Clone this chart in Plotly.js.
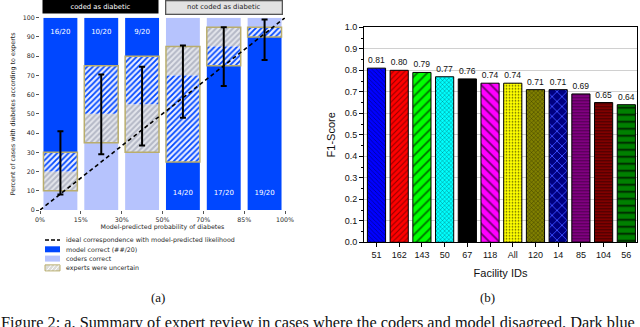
<!DOCTYPE html>
<html>
<head>
<meta charset="utf-8">
<script src="https://cdn.plot.ly/plotly-3.0.1.min.js"></script>
<style>
html, body { margin: 0; padding: 0; background: #fff; }
#plot { width: 640px; height: 327px; }
</style>
</head>
<body>
<div id="plot"></div>
<script>
// ---- (a) expert review where coders and model disagreed ----
const binEdges = ["0%", "15%", "30%", "50%", "70%", "85%", "100%"];
const binCounts = ["16/20", "10/20", "9/20", "14/20", "17/20", "19/20"];
// [bottom, top] of each segment, percent of cases
const coderCorrect   = [[0, 10], [0, 35], [0, 30], [85, 100], [95, 100], [95, 100]];
const uncertainCoder = [[10, 20], [35, 50], [30, 55], [70, 85], [85, 95], [95, 95]];
const uncertainModel = [[20, 30], [50, 75], [55, 80], [25, 70], [75, 85], [90, 95]];
const modelCorrect   = [[30, 100], [75, 100], [80, 100], [0, 25], [0, 75], [0, 90]];
const ciLow  = [8, 29, 33.5, 48, 64.5, 78];
const ciHigh = [41, 70.5, 74.5, 85.5, 95, 99];
const ideal = [0, 100];

// ---- (b) F1 score per facility ----
const facilityIds = ["51", "162", "143", "50", "67", "118", "All", "120", "14", "85", "104", "56"];
const f1Scores = [0.81, 0.80, 0.79, 0.77, 0.76, 0.74, 0.74, 0.71, 0.71, 0.69, 0.65, 0.64];
const barColors = ["#0000ff", "#ff0000", "#00ff00", "#00ffff", "#000000", "#ff00ff",
                   "#ffff00", "#808000", "#000080", "#800080", "#800000", "#008000"];
const hatchColors = ["#000090", "#900000", "#007000", "#007070", "#000000", "#700070",
                     "#606000", "#303000", "#3a4cff", "#400040", "#300000", "#002000"];
const hatchShapes = ["\\", "/", "/", "x", "", "\\", ".", "x", "x", "-", "-", "-"];
const hatchSizes = [3, 4, 7, 3, 6, 7, 3, 3, 7, 3, 3, 7];

const DARK = "#0047ff", LIGHT = "#b6c3fd", OLIVE = "#b9ad6c";
const W = 640, H = 327;
const px = v => v / W;
const py = v => 1 - v / H;
const centers = binCounts.map((_, i) => i + 0.5);
const span = seg => seg.map(s => s[1] - s[0]);
const base = seg => seg.map(s => s[0]);

function segBars(seg, marker) {
  return {
    type: "bar", x: centers, y: span(seg), base: base(seg), width: 0.83,
    marker: marker, xaxis: "x", yaxis: "y", hoverinfo: "skip", showlegend: false
  };
}

const traces = [
  segBars(coderCorrect, { color: LIGHT }),
  segBars(modelCorrect, { color: DARK }),
  segBars(uncertainCoder, { color: "#e2e4ea", pattern: { shape: "/", fgcolor: "#b4b8c6", bgcolor: "#e4e6ec", size: 4, solidity: 0.5 } }),
  segBars(uncertainModel, { color: DARK, pattern: { shape: "/", fgcolor: DARK, bgcolor: "#e8ecff", size: 4, solidity: 0.45 } }),
  segBars(uncertainCoder.map((s, i) => [Math.min(s[0], uncertainModel[i][0]), Math.max(s[1], uncertainModel[i][1])]),
    { color: "rgba(0,0,0,0)", line: { color: OLIVE, width: 1.5 } }),
  {
    type: "scatter", mode: "lines", x: [0, binEdges.length - 1], y: ideal,
    line: { color: "#000", width: 1.6, dash: "4px,3px" }, xaxis: "x", yaxis: "y", showlegend: false
  },
  {
    type: "scatter", mode: "markers", x: centers,
    y: ciLow.map((lo, i) => (lo + ciHigh[i]) / 2),
    marker: { size: 1, color: "rgba(0,0,0,0)" },
    error_y: { type: "data", symmetric: false, array: ciHigh.map((hi, i) => (hi - ciLow[i]) / 2),
               arrayminus: ciHigh.map((hi, i) => (hi - ciLow[i]) / 2), color: "#000", thickness: 2, width: 3 },
    xaxis: "x", yaxis: "y", showlegend: false
  },
  {
    type: "scatter", mode: "text", x: centers,
    y: binCounts.map((_, i) => i < 3 ? 92.5 : 8.5), text: binCounts,
    textfont: { family: "DejaVu Sans", size: 7, color: "#fff" }, xaxis: "x", yaxis: "y", showlegend: false
  }
];

// one trace per facility so each bar keeps its own fill and hatch
facilityIds.forEach((id, i) => {
  traces.push({
    type: "bar", x: [id], y: [f1Scores[i]], width: 0.8, xaxis: "x2", yaxis: "y2",
    marker: {
      color: barColors[i], line: { color: "#000", width: 1 },
      pattern: { shape: hatchShapes[i], fgcolor: hatchColors[i], fgopacity: 1,
                 size: hatchSizes[i], solidity: 0.25, fillmode: "overlay" }
    },
    text: [f1Scores[i].toFixed(2)], textposition: "outside", cliponaxis: false,
    textfont: { family: "Liberation Sans", size: 8.5, color: "#111" }, showlegend: false
  });
});

const small = { family: "DejaVu Sans", size: 6.3, color: "#262626" };
const arial = { family: "Liberation Sans", size: 9, color: "#111" };

// legend rows for (a)
const legendRows = [
  "ideal correspondence with model-predicted likelihood",
  "model correct (##/20)",
  "coders correct",
  "experts were uncertain"
];
const rowY = [240, 249.3, 258.6, 267.9];

const shapes = [
  { type: "line", xref: "paper", yref: "paper", x0: px(45), x1: px(60), y0: py(rowY[0]), y1: py(rowY[0]),
    line: { color: "#000", width: 1.6, dash: "4px,2px" } },
  { type: "rect", xref: "paper", yref: "paper", x0: px(45), x1: px(60), y0: py(rowY[1] - 3), y1: py(rowY[1] + 3),
    fillcolor: DARK, line: { width: 0 } },
  { type: "rect", xref: "paper", yref: "paper", x0: px(45), x1: px(60), y0: py(rowY[2] - 3), y1: py(rowY[2] + 3),
    fillcolor: LIGHT, line: { width: 0 } },
  { type: "rect", xref: "paper", yref: "paper", x0: px(45), x1: px(60), y0: py(rowY[3] - 3), y1: py(rowY[3] + 3),
    fillcolor: "#dcdcd8", line: { color: OLIVE, width: 1 } }
];
[47, 51, 55].forEach(x => shapes.push({
  type: "line", xref: "paper", yref: "paper", x0: px(x), x1: px(x + 4), y0: py(rowY[3] + 2.5), y1: py(rowY[3] - 2.5),
  line: { color: "#ffffff", width: 1 }
}));

const annotations = legendRows.map((t, i) => ({
  xref: "paper", yref: "paper", x: px(64), y: py(rowY[i]), xanchor: "left", yanchor: "middle",
  text: t, showarrow: false, font: small
}));

annotations.push(
  { xref: "paper", yref: "paper", x: px(100.5), y: py(6.5), xanchor: "center", yanchor: "middle",
    text: "coded as diabetic", showarrow: false,
    font: { family: "DejaVu Sans", size: 6.8, color: "#fff" }, bgcolor: "#000", width: 113, height: 11 },
  { xref: "paper", yref: "paper", x: px(223.5), y: py(7.5), xanchor: "center", yanchor: "middle",
    text: "not coded as diabetic", showarrow: false,
    font: { family: "DejaVu Sans", size: 6.8, color: "#222" }, bgcolor: "#e2e2e2", bordercolor: "#555",
    borderwidth: 1.3, width: 113, height: 10 },
  { xref: "paper", yref: "paper", x: px(158), y: py(297), xanchor: "center", yanchor: "middle",
    text: "(a)", showarrow: false, font: { family: "Liberation Serif", size: 13, color: "#111" } },
  { xref: "paper", yref: "paper", x: px(487), y: py(297), xanchor: "center", yanchor: "middle",
    text: "(b)", showarrow: false, font: { family: "Liberation Serif", size: 13, color: "#111" } },
  { xref: "paper", yref: "paper", x: px(-1), y: py(311), xanchor: "left", yanchor: "top",
    text: "Figure 2: a. Summary of expert review in cases where the coders and model disagreed. Dark blue",
    showarrow: false, font: { family: "Liberation Serif", size: 16.3, color: "#111" } }
);

const layout = {
  width: W, height: H,
  margin: { l: 0, r: 0, t: 0, b: 0 },
  paper_bgcolor: "#fff", plot_bgcolor: "#fff",
  barmode: "overlay", showlegend: false,
  xaxis: {
    domain: [px(40), px(285)], anchor: "y", range: [0, binEdges.length - 1],
    tickvals: binEdges.map((_, i) => i), ticktext: binEdges,
    ticks: "outside", ticklen: 3, tickcolor: "#555", tickfont: small,
    showgrid: false, zeroline: false, showline: false,
    title: { text: "Model-predicted probability of diabetes", font: small, standoff: 3 }
  },
  yaxis: {
    domain: [py(210), py(17.7)], anchor: "x", range: [0, 100],
    tickvals: [0, 10, 20, 30, 40, 50, 60, 70, 80, 90, 100], ticksuffix: "%",
    ticks: "outside", ticklen: 3, tickcolor: "#555", tickfont: small,
    showgrid: false, zeroline: false, showline: false,
    title: { text: "Percent of cases with diabetes according to experts", font: small, standoff: 6 }
  },
  xaxis2: {
    domain: [px(364), px(637)], anchor: "y2", type: "category", range: [-0.55, 11.47],
    categoryorder: "array", categoryarray: facilityIds,
    ticks: "outside", ticklen: 4, tickcolor: "#000", tickfont: arial,
    showline: true, linecolor: "#000", linewidth: 1, mirror: true, showgrid: false,
    title: { text: "Facility IDs", font: { family: "Liberation Sans", size: 11, color: "#111" }, standoff: 10 }
  },
  yaxis2: {
    domain: [py(242.3), py(27.3)], anchor: "x2", range: [0, 1], dtick: 0.1, tickformat: ".1f",
    ticks: "outside", ticklen: 4, tickcolor: "#000", tickfont: arial,
    minor: { ticks: "outside", ticklen: 2, dtick: 0.05, tickcolor: "#000" },
    showline: true, linecolor: "#000", linewidth: 1, mirror: true,
    showgrid: true, gridcolor: "#d0d0d0", gridwidth: 1, zeroline: false,
    title: { text: "F1-Score", font: { family: "Liberation Sans", size: 11, color: "#111" }, standoff: 6 }
  },
  yaxis3: {
    overlaying: "y2", anchor: "x2", side: "right", range: [0, 1], dtick: 0.1,
    ticks: "inside", ticklen: 4, tickcolor: "#000", showticklabels: false,
    minor: { ticks: "inside", ticklen: 2, dtick: 0.05, tickcolor: "#000" },
    showgrid: false, zeroline: false, showline: false
  },
  shapes: shapes,
  annotations: annotations
};

Plotly.newPlot("plot", traces, layout, { displayModeBar: false, staticPlot: true });
</script>
</body>
</html>
